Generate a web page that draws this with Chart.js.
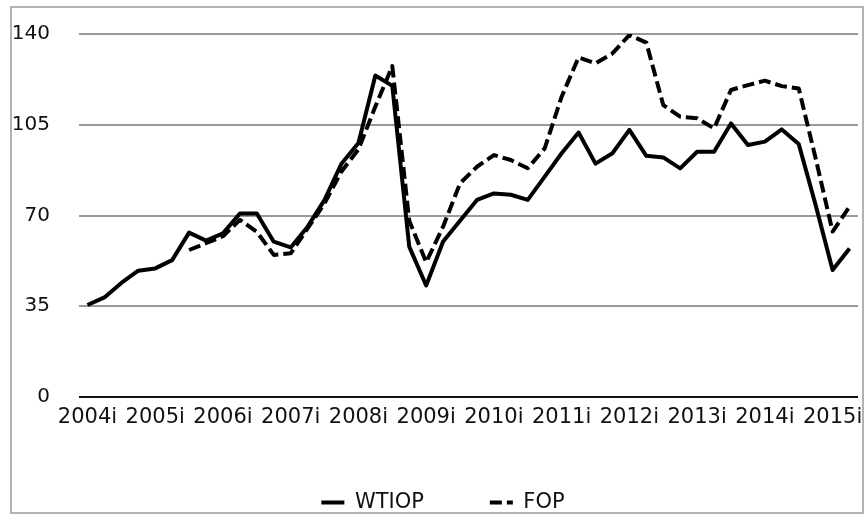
<!DOCTYPE html>
<html>
<head>
<meta charset="utf-8">
<script src="https://cdn.jsdelivr.net/npm/chart.js@4/dist/chart.umd.min.js"></script>
<style>
  html, body { margin: 0; padding: 0; background: #fff; }
  canvas { display: block; }
</style>
</head>
<body>
<canvas id="oil-chart" width="867" height="515"></canvas>
<script>
const FONT = "'DejaVu Sans', sans-serif";
const LINECOLOR = "#000000";
const GRIDCOLOR = "#999999";

// quarterly categories, only the "i" quarter gets a tick label
const QUARTERS = [
    "2004i", "2004ii", "2004iii", "2004iv",
    "2005i", "2005ii", "2005iii", "2005iv",
    "2006i", "2006ii", "2006iii", "2006iv",
    "2007i", "2007ii", "2007iii", "2007iv",
    "2008i", "2008ii", "2008iii", "2008iv",
    "2009i", "2009ii", "2009iii", "2009iv",
    "2010i", "2010ii", "2010iii", "2010iv",
    "2011i", "2011ii", "2011iii", "2011iv",
    "2012i", "2012ii", "2012iii", "2012iv",
    "2013i", "2013ii", "2013iii", "2013iv",
    "2014i", "2014ii", "2014iii", "2014iv",
    "2015i", "2015ii"
];

const WTIOP = [
    35.5, 38.4, 44, 48.7,
    49.6, 52.8, 63.4, 60.3,
    63.1, 70.8, 70.8, 59.9,
    57.7, 65.7, 76, 90,
    98, 124, 120, 58,
    43, 60, 68, 76,
    78.5, 78, 76, 85,
    94, 102, 90, 94,
    103, 93, 92.4, 88.2,
    94.6, 94.6, 105.5, 97.2,
    98.5, 103.2, 97.6, 74,
    49, 57.3
];

const FOP = [
    null, null, null, null,
    null, null, 56.7, 59.3,
    62, 68.3, 63.7, 54.8,
    55.4, 65, 74.7, 87,
    95.5, 112, 127.6, 68,
    52, 65.7, 82.4, 88.8,
    93.3, 91.4, 88.2, 95.9,
    115.8, 131, 128.7, 132.5,
    139.6, 136.7, 112.6, 108.1,
    107.5, 103.6, 118.4, 120.3,
    122, 119.9, 119, 92,
    63.8, 73.4
];

const Y_TICKS = [0, 35, 70, 105, 140];

const frameBorder = {
    id: "frameBorder",
    beforeDraw(chart) {
        const ctx = chart.ctx;
        ctx.save();
        ctx.strokeStyle = "#9a9a9a";
        ctx.lineWidth = 1.5;
        ctx.strokeRect(11, 7, 852, 506);
        ctx.restore();
    }
};

const ctx = document.querySelector("#oil-chart").getContext("2d");
const configuration = {
    type: "line",
    data: {
        labels: QUARTERS,
        datasets: [{
            label: "WTIOP",
            data: WTIOP,
            borderColor: LINECOLOR,
            backgroundColor: LINECOLOR,
            borderWidth: 4,
            borderJoinStyle: "round",
            pointRadius: 0,
            tension: 0
        }, {
            label: "FOP",
            data: FOP,
            borderColor: LINECOLOR,
            backgroundColor: LINECOLOR,
            borderWidth: 4,
            borderDash: [12, 5],
            borderJoinStyle: "round",
            pointRadius: 0,
            tension: 0
        }]
    },
    options: {
        responsive: false,
        animation: false,
        events: [],
        layout: {
            padding: { top: 34, left: 10, right: -9, bottom: -8 }
        },
        scales: {
            x: {
                offset: true,
                grid: { display: false },
                border: { display: false },
                ticks: {
                    autoSkip: false,
                    maxRotation: 0,
                    padding: 0,
                    color: "#111",
                    font: { family: FONT, size: 21 },
                    callback: function(value, index) {
                        return index % 4 === 0 ? this.getLabelForValue(value) : "";
                    }
                },
                afterFit: function(scale) {
                    scale.height = 29;
                }
            },
            y: {
                min: 0,
                max: 140,
                afterBuildTicks: function(scale) {
                    scale.ticks = Y_TICKS.map(v => ({ value: v }));
                },
                border: { display: false },
                grid: {
                    drawTicks: false,
                    lineWidth: 2,
                    color: function(context) {
                        return context.tick && context.tick.value === 0 ? "#111" : GRIDCOLOR;
                    }
                },
                ticks: {
                    padding: 29,
                    color: "#111",
                    font: { family: FONT, size: 20 }
                },
                afterFit: function(scale) {
                    scale.width = 69;
                    // the label padding should not push the plot down
                    scale.paddingTop = 0;
                    scale.paddingBottom = 0;
                }
            },
            // empty spacer on the right so the legend sits where the original has it
            spacer: {
                type: "linear",
                position: "right",
                grid: { display: false },
                border: { display: false },
                ticks: { display: false },
                afterFit: function(scale) {
                    scale.width = 18;
                    scale.paddingTop = 0;
                    scale.paddingBottom = 0;
                }
            }
        },
        plugins: {
            legend: {
                position: "bottom",
                labels: {
                    usePointStyle: true,
                    pointStyle: "line",
                    pointStyleWidth: 23,
                    padding: 66,
                    color: "#111",
                    font: { family: FONT, size: 21 },
                    generateLabels: function(chart) {
                        const items = Chart.defaults.plugins.legend.labels.generateLabels(chart);
                        items.forEach(item => {
                            const ds = chart.data.datasets[item.datasetIndex];
                            item.pointStyle = "line";
                            item.lineWidth = ds.borderWidth;
                            item.lineDash = ds.borderDash || [];
                            item.strokeStyle = ds.borderColor;
                        });
                        return items;
                    }
                }
            },
            tooltip: { enabled: false }
        }
    },
    plugins: [frameBorder]
};
new Chart(ctx, configuration);
</script>
</body>
</html>
